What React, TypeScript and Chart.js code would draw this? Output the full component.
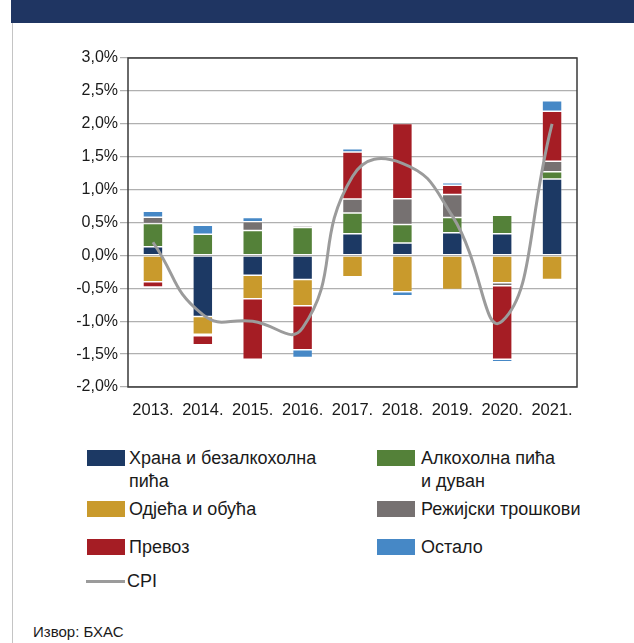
import React, { useEffect, useRef } from "react";
import { Chart, registerables } from "chart.js";

Chart.register(...registerables);

const years = ["2013.", "2014.", "2015.", "2016.", "2017.", "2018.", "2019.", "2020.", "2021."];
const food = [0.13, -0.93, -0.3, -0.365, 0.33, 0.19, 0.345, 0.33, 1.16];
const alcohol = [0.355, 0.32, 0.38, 0.425, 0.315, 0.28, 0.23, 0.28, 0.11];
const clothing = [-0.4, -0.27, -0.36, -0.4, -0.325, -0.552, -0.52, -0.415, -0.365];
const housing = [0.096, -0.02, 0.13, 0.025, 0.213, 0.39, 0.35, -0.045, 0.16];
const transport = [-0.08, -0.137, -0.92, -0.67, 0.714, 1.145, 0.14, -1.12, 0.76];
const other = [0.09, 0.137, 0.066, -0.115, 0.05, -0.06, 0.04, -0.035, 0.16];
const cpi = [0.2, -0.9, -1.0, -1.1, 1.2, 1.4, 0.6, -1.0, 2.0];

const seriesNames = [
  "Храна и безалкохолна\nпића",
  "Алкохолна пића\nи дуван",
  "Одјећа и обућа",
  "Режијски трошкови",
  "Превоз",
  "Остало",
];
const cpiName = "CPI";
const sourceText = "Извор: БХАС";
const seriesColors = ["#1c3964", "#548139", "#c99a2c", "#767171", "#a51d24", "#4688c6"];
const cpiColor = "#9b9b9b";

const FONT = "'Liberation Sans', Arial, sans-serif";

export default function App() {
  const canvasRef = useRef<HTMLCanvasElement | null>(null);

  useEffect(() => {
    const canvas = canvasRef.current;
    if (!canvas) return;
    const values = [food, alcohol, clothing, housing, transport, other];
    const framePlugin = {
      id: "frame",
      afterDraw(chart: any) {
        const { ctx, chartArea } = chart;
        ctx.save();
        ctx.strokeStyle = "#3a3a3a";
        ctx.lineWidth = 1.5;
        ctx.strokeRect(chartArea.left, chartArea.top, chartArea.right - chartArea.left, chartArea.bottom - chartArea.top);
        ctx.restore();
      },
    };
    const chart = new Chart(canvas, {
      type: "bar",
      data: {
        labels: years,
        datasets: [
          {
            type: "line",
            label: cpiName,
            data: cpi,
            borderColor: cpiColor,
            borderWidth: 3,
            pointRadius: 0,
            tension: 0.5,
            fill: false,
            stack: "cpi",
            order: 0,
          } as any,
          ...values.map((v, i) => ({
            type: "bar",
            label: seriesNames[i].replace("\n", " "),
            data: v,
            backgroundColor: seriesColors[i],
            borderColor: "rgba(255,255,255,0.25)",
            borderWidth: 0.75,
            borderSkipped: false,
            barPercentage: 0.4,
            categoryPercentage: 1.0,
            stack: "bars",
            order: 1,
          })),
        ],
      },
      options: {
        animation: false,
        responsive: false,
        layout: { padding: { left: 0, right: 57, top: 58, bottom: 0 } },
        plugins: { legend: { display: false }, tooltip: { enabled: false } },
        scales: {
          x: {
            stacked: true,
            grid: { display: false },
            border: { display: false },
            ticks: { font: { family: FONT, size: 16.5 }, color: "#1a1a1a", padding: 6, maxRotation: 0 },
            afterFit: (s: any) => {
              s.height = 43;
            },
          },
          y: {
            stacked: true,
            min: -2,
            max: 3,
            grid: { color: "#b0b0b0", lineWidth: 1.25, tickLength: 8 },
            border: { display: false },
            ticks: {
              stepSize: 0.5,
              padding: 2,
              font: { family: FONT, size: 16 },
              color: "#1a1a1a",
              callback: (v: any) => Number(v).toFixed(1).replace(".", ",") + "%",
            },
            afterFit: (s: any) => {
              s.width = 128;
            },
          },
        },
      },
      plugins: [framePlugin],
    });
    return () => chart.destroy();
  }, []);

  const rowsTop = [450, 501, 539];
  const colSwatch = [87, 377];
  const colText = [129, 421];
  const textStyle: React.CSSProperties = {
    position: "absolute",
    fontFamily: FONT,
    fontSize: 18,
    lineHeight: "23.4px",
    color: "#1a1a1a",
    whiteSpace: "pre",
  };

  return (
    <div style={{ position: "absolute", left: 0, top: 0, width: 634, height: 643, overflow: "hidden", background: "#fff" }}>
      <div style={{ position: "absolute", left: 11, top: 0, width: 623, height: 23, background: "#1f3562" }} />
      <div style={{ position: "absolute", left: 12, top: 23, width: 1, height: 620, background: "#c4c4c4" }} />
      <canvas ref={canvasRef} width={634} height={430} style={{ position: "absolute", left: 0, top: 0 }} />
      {seriesNames.map((name, i) => {
        const row = Math.floor(i / 2);
        const col = i % 2;
        const top = rowsTop[row];
        return (
          <React.Fragment key={name}>
            <div style={{ position: "absolute", left: colSwatch[col], top, width: 38, height: 16, background: seriesColors[i] }} />
            <div style={{ ...textStyle, left: colText[col], top: top + 8 - 11.2 }}>{name}</div>
          </React.Fragment>
        );
      })}
      <div style={{ position: "absolute", left: 86, top: 580, width: 39, height: 3, background: cpiColor }} />
      <div style={{ ...textStyle, left: 127, top: 581.5 - 11.2 }}>{cpiName}</div>
      <div style={{ position: "absolute", left: 33, top: 623, fontFamily: FONT, fontSize: 15, lineHeight: "18px", color: "#1a1a1a" }}>
        {sourceText}
      </div>
    </div>
  );
}
